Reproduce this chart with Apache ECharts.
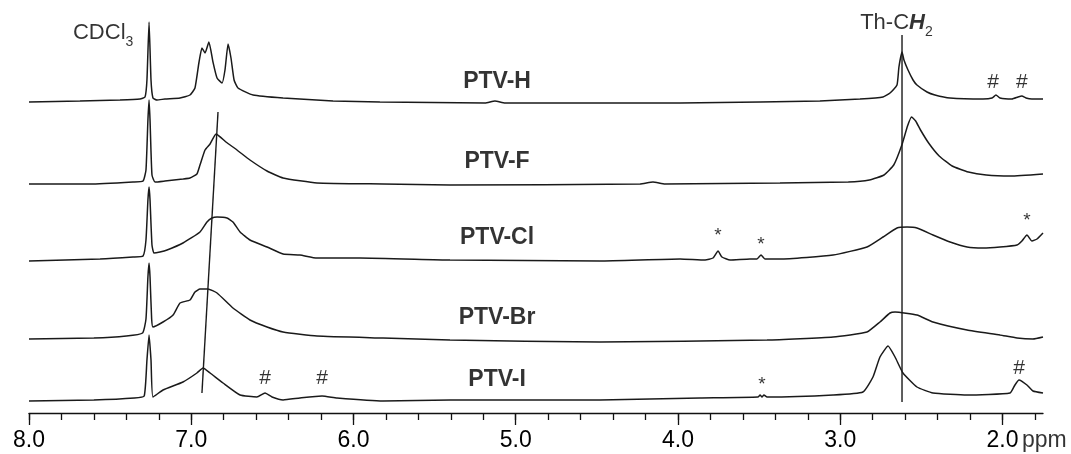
<!DOCTYPE html>
<html><head><meta charset="utf-8">
<script src="https://cdn.jsdelivr.net/npm/echarts@6/dist/echarts.min.js"></script>
<style>html,body{margin:0;padding:0;background:#fff}#c{width:1071px;height:454px}</style>
</head><body><div id="c"></div>
<script>
// ---------- data ----------
const tickLabels = ['8.0','7.0','6.0','5.0','4.0','3.0','2.0'];
const unitLabel = 'ppm';
const spectrumNames = ['PTV-H','PTV-F','PTV-Cl','PTV-Br','PTV-I'];
const baselineLevels = [311, 229, 153, 74, 13];

// [chemical shift (ppm), intensity]
const ptvH = [[8.000,0],[7.686,1],[7.439,2],[7.316,3],[7.285,5],[7.273,22],[7.260,80],[7.248,22],[7.236,4],[7.211,2],[7.162,3],[7.069,4],[7.008,7],[6.977,14],[6.952,40],[6.934,54],[6.915,49],[6.891,60],[6.866,40],[6.841,24],[6.810,19],[6.792,32],[6.773,58],[6.755,44],[6.736,22],[6.712,14],[6.619,7],[6.434,4],[6.126,1],[5.837,0],[5.189,-1],[5.128,1],[5.066,-1],[3.987,-1],[3.494,0],[3.125,1],[2.878,3],[2.736,5],[2.693,9],[2.650,17],[2.638,35],[2.619,50],[2.607,42],[2.582,32],[2.551,22],[2.527,17],[2.465,10],[2.416,7],[2.323,4],[2.120,3],[2.064,4],[2.040,7],[2.015,4],[1.941,3],[1.904,5],[1.880,6],[1.855,4],[1.818,3],[1.750,3]];
const ptvF = [[8.000,0],[7.624,0],[7.359,2],[7.297,3],[7.279,14],[7.267,64],[7.260,84],[7.254,64],[7.242,9],[7.223,2],[7.162,3],[7.051,5],[7.008,6],[6.965,10],[6.946,19],[6.915,34],[6.884,40],[6.847,50],[6.786,42],[6.718,34],[6.638,24],[6.533,13],[6.434,6],[6.225,1],[5.818,0],[5.405,-1],[4.234,0],[4.154,2],[4.080,0],[3.371,1],[2.950,2],[2.820,4],[2.730,9],[2.670,19],[2.620,39],[2.585,58],[2.560,67],[2.535,63],[2.505,54],[2.455,41],[2.390,28],[2.310,18],[2.210,12],[2.100,9],[1.950,8],[1.750,10]];
const ptvCl = [[8.000,-1],[7.562,1],[7.359,3],[7.297,4],[7.279,20],[7.267,60],[7.260,73],[7.254,60],[7.242,15],[7.230,7],[7.193,8],[7.149,10],[7.051,17],[6.946,28],[6.903,38],[6.872,42],[6.841,43],[6.780,42],[6.743,38],[6.699,28],[6.638,20],[6.533,13],[6.434,6],[6.330,5],[6.225,2],[5.960,2],[5.405,0],[4.481,-1],[3.987,1],[3.833,0],[3.784,2],[3.753,9],[3.729,3],[3.679,0],[3.556,1],[3.513,1],[3.488,5],[3.464,1],[3.371,1],[3.044,5],[2.835,13],[2.736,23],[2.650,32],[2.588,33],[2.527,32],[2.428,25],[2.323,18],[2.218,13],[2.120,12],[2.015,13],[1.910,15],[1.880,19],[1.849,25],[1.818,19],[1.787,21],[1.750,27]];
const ptvBr = [[8.000,0],[7.600,1],[7.400,3],[7.300,6],[7.279,20],[7.267,62],[7.260,76],[7.254,62],[7.244,20],[7.236,12],[7.174,17],[7.112,24],[7.069,36],[7.008,39],[6.977,47],[6.946,50],[6.897,50],[6.841,46],[6.743,31],[6.638,19],[6.533,12],[6.434,7],[6.225,3],[5.818,1],[5.405,-1],[4.481,-3],[3.451,-1],[3.044,2],[2.835,7],[2.755,17],[2.693,26],[2.662,27],[2.527,24],[2.428,17],[2.218,9],[2.015,4],[1.910,1],[1.812,0],[1.750,2]];
const ptvI = [[8.000,-1],[7.600,0],[7.350,2],[7.290,4],[7.273,40],[7.260,65],[7.248,40],[7.236,3],[7.174,10],[7.051,18],[6.965,27],[6.927,32],[6.884,27],[6.804,17],[6.699,5],[6.595,3],[6.545,7],[6.502,3],[6.434,0],[6.330,2],[6.194,4],[6.102,2],[5.818,-1],[5.405,0],[4.481,0],[3.864,2],[3.507,3],[3.494,5],[3.482,3],[3.470,5],[3.451,3],[3.044,5],[2.860,8],[2.798,23],[2.755,43],[2.705,54],[2.662,43],[2.613,27],[2.527,13],[2.428,7],[2.218,5],[1.953,7],[1.923,15],[1.898,20],[1.849,15],[1.812,9],[1.750,7]];
const spectra = [ptvH, ptvF, ptvCl, ptvBr, ptvI];

// guide lines [ppm, level]
const shiftGuide = [[6.835,301],[6.934,20]];
const ch2Guide = [[2.619,378],[2.619,11]];

// annotation marks [ppm, level]
const hashMarks = [[2.058,331],[1.880,331],[6.545,35],[6.194,35],[1.898,45]];
const starMarks = [[3.753,177],[3.488,168],[1.849,192],[3.482,28]];
const nameMarks = [[5.115,331],[5.115,251],[5.115,175],[5.115,95],[5.115,33]];

// ---------- layout ----------
const FONT = '"Liberation Sans", Arial, Helvetica, sans-serif';
const INK = '#000';
const LEFT = 29, AXIS_Y = 413, RIGHT_X = 1043;
const X_MIN = 1.75, X_MAX = 8.0, MINOR_MIN = 1.8, MAJOR_MIN = 2.0;
const pxPerPpm = (RIGHT_X - LEFT) / (X_MAX - X_MIN);

const grids = [X_MIN, MINOR_MIN, MAJOR_MIN].map(m => ({
  left: LEFT, top: 0, height: AXIS_Y, width: (X_MAX - m) * pxPerPpm
}));
const yAxes = grids.map((g, i) => ({gridIndex: i, type: 'value', min: 0, max: AXIS_Y, show: false}));

const xAxes = [
  {gridIndex: 0, type: 'value', min: X_MIN, max: X_MAX, inverse: true,
   axisLine: {show: true, onZero: false, lineStyle: {color: '#111', width: 1.3}},
   axisTick: {show: false}, axisLabel: {show: false}, splitLine: {show: false}},
  {gridIndex: 1, type: 'value', min: MINOR_MIN, max: X_MAX, interval: 0.2, inverse: true,
   axisLine: {show: false, onZero: false},
   axisTick: {show: true, length: 7, lineStyle: {color: '#111', width: 1.3}},
   axisLabel: {show: false}, splitLine: {show: false}},
  {gridIndex: 2, type: 'value', min: MAJOR_MIN, max: X_MAX, interval: 1, inverse: true,
   axisLine: {show: false, onZero: false},
   axisTick: {show: true, length: 12, lineStyle: {color: '#111', width: 1.3}},
   axisLabel: {show: true, margin: 16, fontSize: 23, fontFamily: FONT, color: INK,
     showMinLabel: true, showMaxLabel: true,
     formatter: v => tickLabels[Math.round(X_MAX - v)]},
   splitLine: {show: false}}
];

const lineSeries = spectra.map((s, i) => ({
  type: 'line', name: spectrumNames[i], xAxisIndex: 0, yAxisIndex: 0,
  data: s.map(([p, v]) => [p, baselineLevels[i] + v]),
  symbol: 'none', smooth: 0.15, clip: false,
  lineStyle: {color: '#1a1a1a', width: 1.5}, silent: true
}));

const guideSeries = [shiftGuide, ch2Guide].map(g => ({
  type: 'line', xAxisIndex: 0, yAxisIndex: 0, data: g, symbol: 'none',
  lineStyle: {color: '#1a1a1a', width: 1.4}, silent: true, clip: false
}));

function textPoint(value, text, opts) {
  return {value, label: Object.assign({show: true, position: 'inside', formatter: text,
    fontFamily: FONT, color: INK, textBorderWidth: 0, align: 'center', verticalAlign: 'middle'}, opts)};
}
const richBase = {fontFamily: FONT, color: INK, textBorderWidth: 0};
const labelData = [];
nameMarks.forEach((m, i) => labelData.push(textPoint(m, spectrumNames[i], {fontSize: 23, fontWeight: 'bold'})));
hashMarks.forEach(m => labelData.push(textPoint(m, '#', {fontSize: 21})));
starMarks.forEach(m => labelData.push(textPoint(m, '*', {fontSize: 19})));
labelData.push(textPoint([7.729, 380], '{a|CDCl}{s|3}', {align: 'left',
  rich: {a: Object.assign({fontSize: 22, lineHeight: 24}, richBase),
         s: Object.assign({fontSize: 14, lineHeight: 14, padding: [18, 0, 0, 0]}, richBase)}}));
labelData.push(textPoint([2.877, 390], '{a|Th-C}{b|H}{s|2}', {align: 'left',
  rich: {a: Object.assign({fontSize: 22, lineHeight: 24}, richBase),
         b: Object.assign({fontSize: 22, lineHeight: 24, fontWeight: 'bold', fontStyle: 'italic'}, richBase),
         s: Object.assign({fontSize: 14, lineHeight: 14, padding: [18, 0, 0, 0]}, richBase)}}));
labelData.push(textPoint([1.880, -28], unitLabel, {align: 'left', fontSize: 23}));

const labelSeries = {
  type: 'scatter', xAxisIndex: 0, yAxisIndex: 0, data: labelData,
  symbol: 'circle', symbolSize: 1, itemStyle: {color: 'rgba(0,0,0,0)'},
  clip: false, silent: true, z: 5
};

const chart = echarts.init(document.getElementById('c'), null, {renderer: 'canvas'});
chart.setOption({
  animation: false,
  backgroundColor: '#fff',
  grid: grids, xAxis: xAxes, yAxis: yAxes,
  series: [...lineSeries, ...guideSeries, labelSeries]
});
</script>
</body></html>
